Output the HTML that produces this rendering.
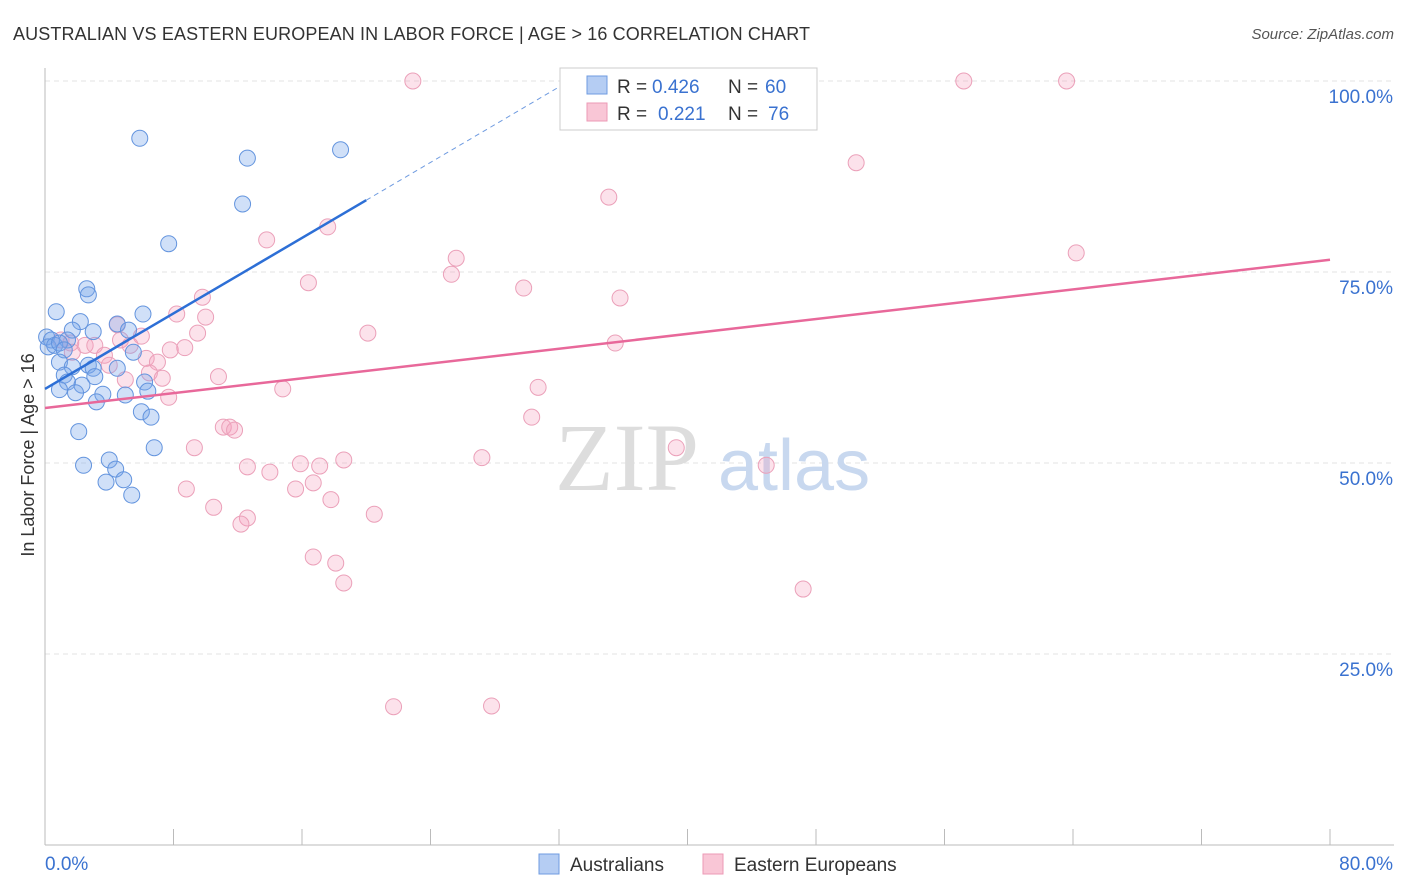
<!DOCTYPE html>
<html><head><meta charset="utf-8">
<style>
body{margin:0;background:#fff;font-family:"Liberation Sans",sans-serif;}
#wrap{position:relative;width:1406px;height:892px;overflow:hidden;}
</style></head>
<body>
<div id="wrap">
<svg id="svg" width="1406" height="892" xmlns="http://www.w3.org/2000/svg">
  <text x="13" y="40" font-size="18" fill="#333" textLength="797">AUSTRALIAN VS EASTERN EUROPEAN IN LABOR FORCE | AGE &gt; 16 CORRELATION CHART</text>
  <text x="1394" y="39" font-size="15" fill="#555" text-anchor="end" font-style="italic">Source: ZipAtlas.com</text>
  <g id="grid"></g>
  <text x="555" y="490" font-size="96" fill="#ddd" font-family="Liberation Serif,serif">ZIP</text>
  <text x="718" y="490" font-size="72" fill="#c8d8ef">atlas</text>
  <g id="axes"></g>
  <g id="marks"></g>
  <text transform="translate(34,455) rotate(-90)" font-size="18" fill="#333" text-anchor="middle">In Labor Force | Age &gt; 16</text>
  <g>
    <rect x="560" y="68" width="257" height="62" fill="#fff" stroke="#ccc"/>
    <rect x="587" y="76" width="20" height="18" fill="#b5cdf3" stroke="#6f9be0"/>
    <rect x="587" y="103" width="20" height="18" fill="#f9c6d6" stroke="#ec9ab6"/>
    <text y="93" font-size="19" fill="#333"><tspan x="617">R =</tspan><tspan x="652" fill="#3a72d0">0.426</tspan><tspan x="728">N =</tspan><tspan x="765" fill="#3a72d0">60</tspan></text>
    <text y="120" font-size="19" fill="#333"><tspan x="617">R =</tspan><tspan x="658" fill="#3a72d0">0.221</tspan><tspan x="728">N =</tspan><tspan x="768" fill="#3a72d0">76</tspan></text>
  </g>
  <g>
    <rect x="539" y="854" width="20" height="20" fill="#b5cdf3" stroke="#6f9be0"/>
    <text x="570" y="871" font-size="19" fill="#333">Australians</text>
    <rect x="703" y="854" width="20" height="20" fill="#f9c6d6" stroke="#ec9ab6"/>
    <text x="734" y="871" font-size="19" fill="#333">Eastern Europeans</text>
  </g>
</svg>
</div>
<script>
const xTicks=[0,8,16,24,32,40,48,56,64,72,80];
const yTicks=[25,50,75,100];
const yTickLabels=["25.0%","50.0%","75.0%","100.0%"];
const blueX=[5.9,12.6,18.4,12.3,7.7,2.6,2.7,0.7,6.1,2.2,4.5,1.7,5.2,3.0,0.1,0.4,1.4,0.2,0.6,0.9,1.2,5.5,0.9,2.7,3.0,4.5,1.7,1.2,3.1,1.4,2.3,6.2,0.9,1.9,3.6,5.0,6.4,3.2,6.0,6.6,2.1,6.8,2.4,4.0,4.4,4.9,3.8,5.4];
const blueY=[92.5,89.9,91.0,83.9,78.7,72.8,72.0,69.8,69.5,68.5,68.2,67.4,67.4,67.2,66.5,66.1,66.1,65.2,65.4,65.7,64.8,64.5,63.2,62.8,62.4,62.4,62.6,61.5,61.3,60.6,60.2,60.6,59.6,59.2,59.0,58.9,59.4,58.0,56.7,56.0,54.1,52.0,49.7,50.4,49.2,47.8,47.5,45.8];
const pinkX=[22.9,57.2,63.6,50.5,35.1,17.6,13.8,64.2,25.6,25.3,16.4,29.8,35.8,9.8,8.2,10.0,20.1,9.5,6.0,4.5,35.5,1.0,1.6,2.5,3.1,1.7,3.7,4.7,5.3,7.8,8.7,6.3,7.0,4.0,6.5,7.3,5.0,10.8,14.8,30.7,7.7,30.3,11.1,11.5,11.8,9.3,39.3,27.2,18.6,44.9,15.9,17.1,12.6,14.0,16.7,15.6,8.8,17.8,10.5,20.5,12.6,12.2,16.7,18.1,18.6,47.2,21.7,27.8];
const pinkY=[100,100,100,89.3,84.8,80.9,79.2,77.5,76.8,74.7,73.6,72.9,71.6,71.7,69.5,69.1,67.0,67.0,66.6,68.1,65.7,66.1,65.7,65.4,65.4,64.5,64.1,66.1,65.4,64.8,65.1,63.7,63.2,62.8,61.8,61.1,60.9,61.3,59.7,59.9,58.6,56.0,54.7,54.7,54.3,52.0,52.0,50.7,50.4,49.7,49.9,49.6,49.5,48.8,47.4,46.6,46.6,45.2,44.2,43.3,42.8,42.0,37.7,36.9,34.3,33.5,18.1,18.2];
const blueTrend=[59.7,1.235];
const pinkTrend=[57.2,0.2425];

const NS="http://www.w3.org/2000/svg";
const X=v=>45+v*(1285/80);
const Y=v=>845-v*7.64;
function mk(tag,attrs,parent){const e=document.createElementNS(NS,tag);for(const k in attrs)e.setAttribute(k,attrs[k]);parent.appendChild(e);return e;}
const grid=document.getElementById('grid'),axes=document.getElementById('axes'),marks=document.getElementById('marks');
yTicks.forEach((t,i)=>{
  const l=mk('line',{x1:45,x2:1394,y1:Y(t),y2:Y(t),stroke:'#e3e3e3','stroke-dasharray':'5,4'},grid);
  
  
  const tx=mk('text',{x:1393,y:Y(t)+22,'font-size':19,fill:'#3a72d0','text-anchor':'end'},axes);
  tx.textContent=yTickLabels[i];
  
  
});
mk('line',{x1:45,x2:45,y1:68,y2:845,stroke:'#bbb'},axes);
mk('line',{x1:45,x2:1394,y1:845,y2:845,stroke:'#bbb'},axes);
xTicks.forEach(t=>{
  const l=mk('line',{x1:X(t),x2:X(t),y1:829,y2:845,stroke:'#bbb'},axes);
  
  
});
const x0=mk('text',{x:45,y:870,'font-size':19,fill:'#3a72d0'},axes);x0.textContent='0.0%';


const x1=mk('text',{x:1393,y:870,'font-size':19,fill:'#3a72d0','text-anchor':'end'},axes);x1.textContent='80.0%';



pinkX.forEach((v,i)=>{
  const c=mk('circle',{cx:X(v),cy:Y(pinkY[i]),r:8,fill:'rgba(244,160,188,0.3)',stroke:'#eba0b9','stroke-width':1},marks);
  
  
});
blueX.forEach((v,i)=>{
  const c=mk('circle',{cx:X(v),cy:Y(blueY[i]),r:8,fill:'rgba(120,165,235,0.35)',stroke:'#6394de','stroke-width':1},marks);
  
  
});
const pl=mk('line',{x1:X(0),y1:Y(pinkTrend[0]),x2:X(80),y2:Y(pinkTrend[0]+pinkTrend[1]*80),stroke:'#e8689a','stroke-width':2.5},marks);


const bl=mk('line',{x1:X(0),y1:Y(blueTrend[0]),x2:X(20),y2:Y(blueTrend[0]+blueTrend[1]*20),stroke:'#2d6fd6','stroke-width':2.5},marks);


const bd=mk('line',{x1:X(20),y1:Y(blueTrend[0]+blueTrend[1]*20),x2:X(32.5),y2:Y(blueTrend[0]+blueTrend[1]*32.5),stroke:'#6f9be0','stroke-width':1,'stroke-dasharray':'5,4'},marks);


</script>
</body></html>
